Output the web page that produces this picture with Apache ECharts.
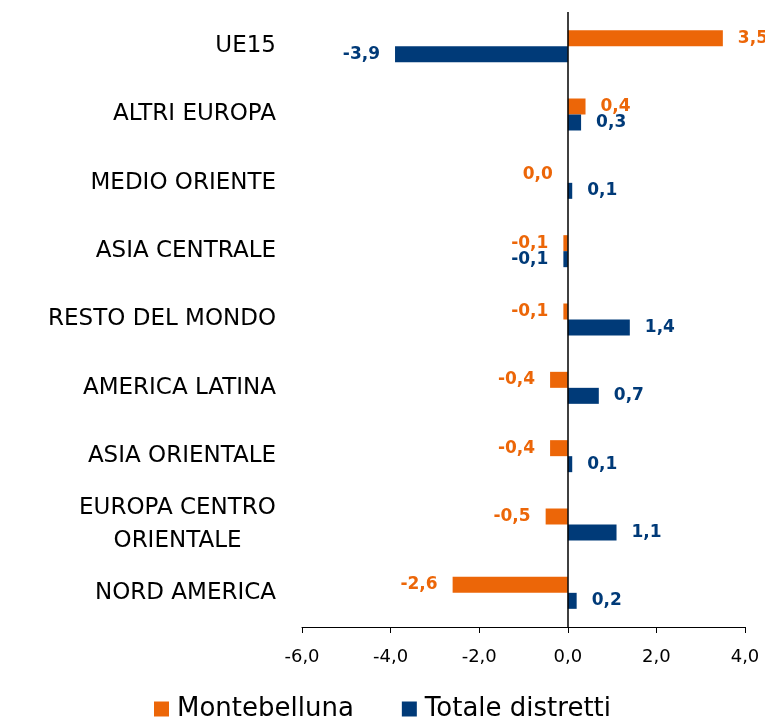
<!DOCTYPE html>
<html>
<head>
<meta charset="utf-8">
<script src="https://cdn.jsdelivr.net/npm/echarts@6/dist/echarts.min.js"></script>
<style>
  html, body { margin: 0; padding: 0; background: #fff; }
  #chart { width: 765px; height: 721px; }
</style>
</head>
<body>
<div id="chart"></div>
<script>
// dati (dall'alto verso il basso)
var categorie = ['UE15', 'ALTRI EUROPA', 'MEDIO ORIENTE', 'ASIA CENTRALE', 'RESTO DEL MONDO',
  'AMERICA LATINA', 'ASIA ORIENTALE', 'EUROPA CENTRO ORIENTALE', 'NORD AMERICA'];
var montebelluna = [3.5, 0.4, 0.0, -0.1, -0.1, -0.4, -0.4, -0.5, -2.6];
var totaleDistretti = [-3.9, 0.3, 0.1, -0.1, 1.4, 0.7, 0.1, 1.1, 0.2];
var nomiSerie = ['Montebelluna', 'Totale distretti'];

var font = 'DejaVu Sans';
var arancio = '#EC6608';
var blu = '#003A78';

function fmt(v) {
  return v.toFixed(1).replace('.', ',');
}

// etichette a destra per i positivi, a sinistra per negativi e zero
function dati(arr, colore) {
  return arr.map(function (v) {
    return {
      value: v,
      label: {
        show: true,
        position: v > 0 ? 'right' : 'left',
        distance: 15,
        color: colore,
        fontFamily: font,
        fontWeight: 'bold',
        fontSize: 17,
        formatter: function (p) { return fmt(p.value); }
      }
    };
  });
}

var myChart = echarts.init(document.getElementById('chart'));
var option = {
  animation: false,
  textStyle: { fontFamily: font },
  grid: { left: 302, right: 20, top: 12, bottom: 94 },
  legend: {
    top: 691,
    left: 'center',
    itemWidth: 15,
    itemHeight: 15,
    itemGap: 48,
    icon: 'rect',
    textStyle: { fontFamily: font, fontSize: 26, color: '#000', padding: [0, 0, 0, 3] },
    data: nomiSerie
  },
  xAxis: {
    type: 'value',
    min: -6,
    max: 4,
    interval: 2,
    axisLine: { show: true, lineStyle: { color: '#000', width: 1 } },
    axisTick: { show: true, length: 6, lineStyle: { color: '#000' } },
    splitLine: { show: false },
    axisLabel: {
      margin: 21,
      fontFamily: font,
      fontSize: 18,
      color: '#000',
      formatter: function (v) { return fmt(v); }
    }
  },
  yAxis: {
    type: 'category',
    inverse: true,
    data: categorie,
    axisLine: { show: false, onZero: false },
    axisTick: { show: false },
    axisLabel: {
      margin: 26,
      fontFamily: font,
      fontSize: 23,
      color: '#000',
      formatter: function (v) {
        if (v === 'EUROPA CENTRO ORIENTALE') {
          return '{c|EUROPA CENTRO}\n{c|ORIENTALE}';
        }
        return v;
      },
      rich: {
        c: { width: 197, align: 'center', fontFamily: font, fontSize: 23, color: '#000', lineHeight: 33 }
      }
    }
  },
  series: [
    {
      name: nomiSerie[0],
      type: 'bar',
      barWidth: 16,
      barGap: '0%',
      itemStyle: { color: arancio },
      data: dati(montebelluna, arancio),
      markLine: {
        silent: true,
        symbol: 'none',
        label: { show: false },
        lineStyle: { color: '#000', type: 'solid', width: 1.5 },
        data: [{ xAxis: 0 }]
      }
    },
    {
      name: nomiSerie[1],
      type: 'bar',
      barWidth: 16,
      barGap: '0%',
      itemStyle: { color: blu },
      data: dati(totaleDistretti, blu)
    }
  ]
};
myChart.setOption(option);
</script>
</body>
</html>
